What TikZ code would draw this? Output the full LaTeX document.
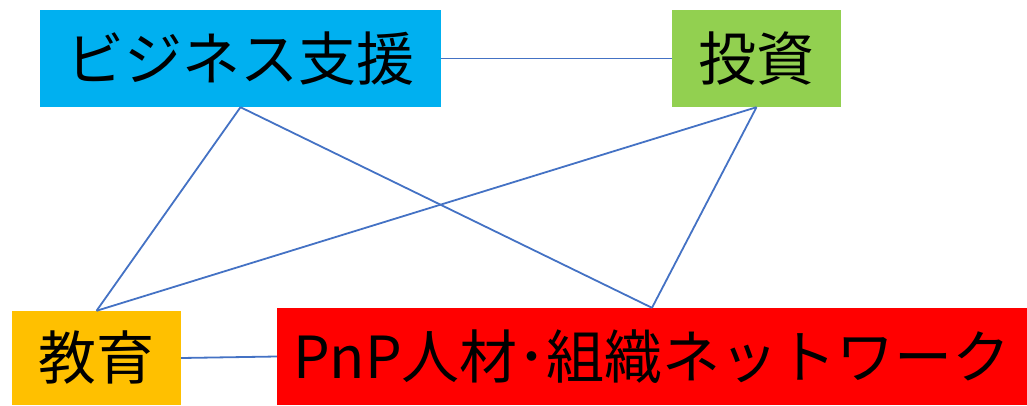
\documentclass[tikz,border=0pt]{standalone}
\usepackage{fontspec}
\newfontfamily\jp{Noto Sans CJK JP}
\definecolor{cblue}{RGB}{0,176,240}
\definecolor{cgreen}{RGB}{146,208,80}
\definecolor{corange}{RGB}{255,192,0}
\definecolor{cred}{RGB}{255,0,0}
\definecolor{cline}{RGB}{68,114,196}
\begin{document}
\begin{tikzpicture}[x=1pt,y=-1pt,
  box/.style={rectangle,inner sep=0pt,anchor=center,font=\jp\fontsize{58pt}{60pt}\selectfont,text=black},
  link/.style={draw=cline,line width=1.8pt}]
\useasboundingbox (0,0) rectangle (1027,405);
\node[box,fill=cblue,minimum width=401pt,minimum height=97pt] (biz) at (240.5,58.5) {ビジネス支援};
\node[box,fill=cgreen,minimum width=169pt,minimum height=97pt] (inv) at (756.5,58.5) {投資};
\node[box,fill=corange,minimum width=169pt,minimum height=94pt] (edu) at (96.5,358) {教育};
\node[box,fill=cred,minimum width=750pt,minimum height=97pt] (pnp) at (652,356.5) {PnP人材･組織ネットワーク};
\draw[link] (biz.east) -- (inv.west);
\draw[link] (edu.east) -- (pnp.west);
\draw[link] (biz.south) -- (edu.north);
\draw[link] (biz.south) -- (pnp.north);
\draw[link] (inv.south) -- (edu.north);
\draw[link] (inv.south) -- (pnp.north);
\end{tikzpicture}
\end{document}
